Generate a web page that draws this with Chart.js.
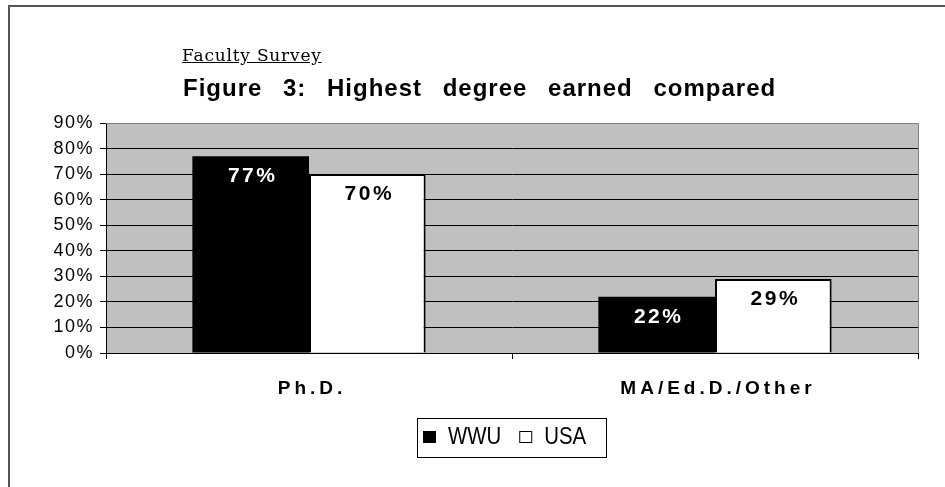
<!DOCTYPE html>
<html>
<head>
<meta charset="utf-8">
<script src="https://cdn.jsdelivr.net/npm/chart.js@4/dist/chart.umd.min.js"></script>
<style>
  html, body { margin: 0; padding: 0; background: #fff; width: 945px; height: 487px; overflow: hidden; }
  #frame { position: absolute; left: 8px; top: 5px; width: 1000px; height: 600px; border-left: 2px solid #555; border-top: 2px solid #555; }
  #sub { position: absolute; left: 182px; top: 46px; font-family: "DejaVu Serif", serif; font-size: 17px; text-decoration: underline; color: #000; white-space: nowrap; letter-spacing: 0.8px; line-height: 18px; }
  #title { position: absolute; left: 183px; top: 76px; font-family: Arial, "Liberation Sans", sans-serif; font-weight: bold; font-size: 24px; line-height: 24px; letter-spacing: 1px; word-spacing: 13px; color: #000; white-space: nowrap; }
  #c { position: absolute; left: 0; top: 0; }
</style>
</head>
<body>
<div id="frame"></div>
<canvas id="c" width="945" height="487"></canvas>
<div id="sub">Faculty Survey</div>
<div id="title">Figure 3: Highest degree earned compared</div>
<script>
const categories = ['Ph.D.', 'MA/Ed.D./Other'];
const seriesNames = ['WWU', 'USA'];
const wwuValues = [77, 22];
const usaValues = [70, 29];
const yTicks = [0, 10, 20, 30, 40, 50, 60, 70, 80, 90];

const FONT = 'Arial, "Liberation Sans", sans-serif';

const plotBg = {
  id: 'plotBg',
  beforeDraw(chart) {
    const {ctx, chartArea: a} = chart;
    ctx.save();
    ctx.fillStyle = '#c0c0c0';
    ctx.fillRect(a.left, a.top, a.right - a.left, a.bottom - a.top);
    ctx.restore();
    ctx.letterSpacing = '1.5px';
  },
  beforeDatasetsDraw(chart) {
    const {ctx, chartArea: a} = chart;
    ctx.save();
    ctx.strokeStyle = '#808080';
    ctx.lineWidth = 1;
    ctx.beginPath();
    ctx.moveTo(a.left, a.top + 0.5);
    ctx.lineTo(a.right + 0.5, a.top + 0.5);
    ctx.lineTo(a.right + 0.5, a.bottom);
    ctx.stroke();
    ctx.restore();
  }
};

const valueLabels = {
  id: 'valueLabels',
  afterDatasetsDraw(chart) {
    const {ctx} = chart;
    ctx.save();
    ctx.letterSpacing = '2.5px';
    ctx.font = 'bold 21px ' + FONT;
    ctx.textAlign = 'center';
    ctx.textBaseline = 'middle';
    chart.data.datasets.forEach((ds, di) => {
      const meta = chart.getDatasetMeta(di);
      meta.data.forEach((el, i) => {
        ctx.fillStyle = di === 0 ? '#ffffff' : '#000000';
        ctx.fillText(ds.data[i] + '%', el.x + 2, el.y + 20);
      });
    });
    ctx.restore();
  }
};

const catLabels = {
  id: 'catLabels',
  afterDraw(chart) {
    const {ctx} = chart;
    const xs = chart.scales.x;
    ctx.save();
    ctx.letterSpacing = '4px';
    ctx.font = 'bold 19px ' + FONT;
    ctx.fillStyle = '#000';
    ctx.textAlign = 'center';
    ctx.textBaseline = 'middle';
    categories.forEach((c, i) => {
      ctx.fillText(c, xs.getPixelForTick(i) + 3, chart.chartArea.bottom + 36);
    });
    ctx.restore();
  }
};

const boxLegend = {
  id: 'boxLegend',
  afterDraw(chart) {
    const {ctx, chartArea: a} = chart;
    ctx.save();
    ctx.letterSpacing = '0px';
    ctx.font = '24px ' + FONT;
    ctx.textBaseline = 'middle';
    const sx = 0.85;
    const sq = 13, gap = 12, itemGap = 18, padL = 6, padR = 20;
    const items = chart.data.datasets.map(ds => ({text: ds.label, fill: ds.backgroundColor, w: ctx.measureText(ds.label).width * sx}));
    let total = padL + padR;
    items.forEach((it, i) => { total += sq + gap + it.w + (i < items.length - 1 ? itemGap : 0); });
    const cx = (a.left + a.right) / 2;
    const left = Math.round(cx - total / 2);
    const top = a.bottom + 65;
    const h = 39;
    ctx.strokeStyle = '#000';
    ctx.lineWidth = 1;
    ctx.strokeRect(left + 0.5, top + 0.5, Math.round(total), h);
    let x = left + padL;
    const cy = top + 19;
    items.forEach((it, i) => {
      ctx.fillStyle = it.fill;
      ctx.fillRect(x, cy - 6, sq, 12);
      ctx.strokeStyle = '#000';
      ctx.strokeRect(x + 0.5, cy - 6 + 0.5, sq - 1, 11);
      x += sq + gap;
      ctx.fillStyle = '#000';
      ctx.save();
      ctx.translate(x, cy);
      ctx.scale(sx, 1);
      ctx.fillText(it.text, 0, 0);
      ctx.restore();
      x += it.w + itemGap;
    });
    ctx.restore();
  }
};

new Chart(document.getElementById('c'), {
  type: 'bar',
  data: {
    labels: categories,
    datasets: [
      { label: seriesNames[0], data: wwuValues, backgroundColor: '#000000', borderWidth: 0 },
      { label: seriesNames[1], data: usaValues, backgroundColor: '#ffffff', borderColor: '#000000', borderWidth: 2 }
    ]
  },
  options: {
    responsive: false,
    animation: false,
    devicePixelRatio: 1,
    layout: { padding: { left: 0, top: 123, right: 27, bottom: 94 } },
    plugins: { legend: { display: false }, tooltip: { enabled: false }, title: { display: false } },
    datasets: { bar: { categoryPercentage: 0.5746, barPercentage: 1.0 } },
    scales: {
      x: {
        ticks: { display: false },
        grid: { offset: true, drawOnChartArea: false, drawTicks: true, tickLength: 6, tickColor: '#000', color: '#000' },
        border: { color: '#000', width: 1 },
        afterFit(s) { s.height = 40; }
      },
      y: {
        min: 0, max: 90,
        afterBuildTicks(s) { s.ticks = yTicks.map(v => ({ value: v })); },
        ticks: { padding: 6, color: '#000', font: { family: FONT, size: 18 }, callback: v => v + '%' },
        grid: { color: ctx => (ctx.tick && ctx.tick.value === 90) ? '#808080' : '#000', tickColor: '#000', tickLength: 6, lineWidth: 1 },
        border: { color: '#000', width: 1 },
        afterFit(s) { s.width = 106; }
      }
    }
  },
  plugins: [plotBg, valueLabels, catLabels, boxLegend]
});
</script>
</body>
</html>
